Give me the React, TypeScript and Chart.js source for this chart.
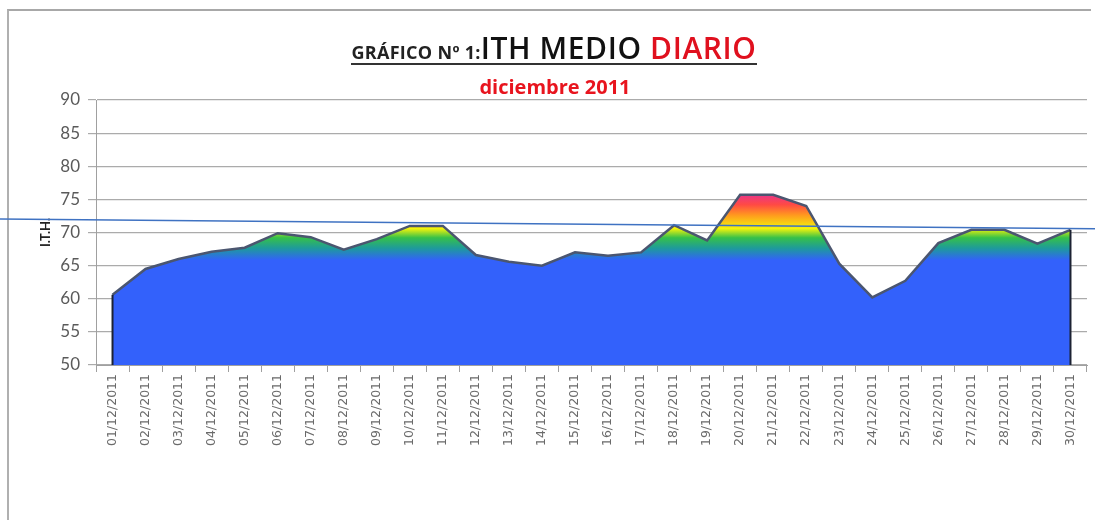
import React, { useEffect, useRef } from "react";
import { Chart, registerables } from "chart.js";

Chart.register(...registerables);

const DATES = [
  "01/12/2011", "02/12/2011", "03/12/2011", "04/12/2011", "05/12/2011",
  "06/12/2011", "07/12/2011", "08/12/2011", "09/12/2011", "10/12/2011",
  "11/12/2011", "12/12/2011", "13/12/2011", "14/12/2011", "15/12/2011",
  "16/12/2011", "17/12/2011", "18/12/2011", "19/12/2011", "20/12/2011",
  "21/12/2011", "22/12/2011", "23/12/2011", "24/12/2011", "25/12/2011",
  "26/12/2011", "27/12/2011", "28/12/2011", "29/12/2011", "30/12/2011",
];

const ITH = [
  60.6, 64.5, 66.0, 67.1, 67.7, 69.9, 69.3, 67.4, 69.0, 71.0,
  71.0, 66.6, 65.6, 65.0, 67.0, 66.5, 67.0, 71.1, 68.8, 75.7,
  75.7, 74.0, 65.3, 60.2, 62.7, 68.4, 70.4, 70.4, 68.3, 70.4,
];

const Y_MIN = 50;
const Y_MAX = 90;
const Y_STEP = 5;

// hand-drawn reference line across the picture (value at left edge, value at right edge)
const MARK_LINE = [72.05, 70.55];

// colour ramp by ITH value
const RAMP_VALUES = [50, 65.8, 67.6, 69.2, 70.6, 72.6, 74.2, 75.8];
const RAMP_COLORS = ["#3361fb", "#3361fb", "#1e9a9c", "#35c04a", "#f4f40a", "#ff9a1e", "#ff4a44", "#e8348c"];

const edgesPlugin = {
  id: "edgesAndMark",
  afterDatasetsDraw(chart: any) {
    const meta = chart.getDatasetMeta(0);
    const pts = meta.data;
    const y = chart.scales.y;
    const base = y.getPixelForValue(Y_MIN);
    const ctx = chart.ctx;
    ctx.save();
    ctx.strokeStyle = "#1c2233";
    ctx.lineWidth = 2;
    [pts[0], pts[pts.length - 1]].forEach((p: any) => {
      ctx.beginPath();
      ctx.moveTo(p.x, p.y);
      ctx.lineTo(p.x, base);
      ctx.stroke();
    });
    ctx.restore();
  },
  afterDraw(chart: any) {
    const y = chart.scales.y;
    const ctx = chart.ctx;
    ctx.save();
    ctx.strokeStyle = "#3f72c2";
    ctx.lineWidth = 1.5;
    ctx.beginPath();
    ctx.moveTo(0, y.getPixelForValue(MARK_LINE[0]));
    ctx.lineTo(chart.width, y.getPixelForValue(MARK_LINE[1]));
    ctx.stroke();
    ctx.restore();
  },
};

const PAD_LEFT = 38;

export default function App() {
  const ref = useRef<HTMLCanvasElement | null>(null);

  useEffect(() => {
    if (!ref.current) return;
    const chart = new Chart(ref.current, {
      type: "line",
      data: {
        labels: DATES,
        datasets: [
          {
            data: ITH,
            fill: "start",
            borderColor: "#4b5670",
            borderWidth: 2.5,
            pointRadius: 0,
            tension: 0,
            backgroundColor: (c: any) => {
              const ch = c.chart;
              if (!ch.chartArea) return RAMP_COLORS[0];
              const ys = ch.scales.y;
              const top = ys.getPixelForValue(RAMP_VALUES[RAMP_VALUES.length - 1]);
              const bot = ys.getPixelForValue(RAMP_VALUES[0]);
              const g = ch.ctx.createLinearGradient(0, bot, 0, top);
              const span = RAMP_VALUES[RAMP_VALUES.length - 1] - RAMP_VALUES[0];
              RAMP_VALUES.forEach((v, i) => {
                g.addColorStop((v - RAMP_VALUES[0]) / span, RAMP_COLORS[i]);
              });
              return g;
            },
          },
        ],
      },
      options: {
        animation: false,
        responsive: false,
        maintainAspectRatio: false,
        layout: { padding: { left: PAD_LEFT, top: 100, right: 8, bottom: 0 } },
        plugins: {
          legend: { display: false },
          tooltip: { enabled: false },
          title: { display: false },
        },
        scales: {
          x: {
            offset: true,
            grid: {
              offset: true,
              drawOnChartArea: false,
              drawTicks: true,
              tickLength: 7,
              color: "#a0a0a0",
            },
            border: { display: true, color: "#a0a0a0" },
            ticks: {
              autoSkip: false,
              minRotation: 90,
              maxRotation: 90,
              color: "#6a6a6a",
              padding: 2,
              font: { family: "DejaVu Sans", size: 12.5 },
            },
            afterFit: (s: any) => {
              s.height = 155;
            },
          },
          y: {
            min: Y_MIN,
            max: Y_MAX,
            ticks: {
              stepSize: Y_STEP,
              color: "#5a5a5a",
              padding: 8,
              font: { family: "Lato", size: 17 },
            },
            grid: { color: "#ababab", tickLength: 8, lineWidth: 1.2 },
            border: { display: true, color: "#a0a0a0" },
            title: {
              display: true,
              text: "I.T.H.",
              color: "#222",
              padding: 0,
              font: { family: "Lato", size: 13, weight: "bold" },
            },
            afterFit: (s: any) => {
              s.width = 96 - PAD_LEFT;
            },
          },
        },
      },
      plugins: [edgesPlugin],
    });
    return () => chart.destroy();
  }, []);

  return (
    <div style={{ position: "fixed", left: 0, top: 0, width: 1095, height: 520, background: "#fff" }}>
      <div
        style={{
          position: "absolute",
          left: 7,
          top: 9,
          width: 1084,
          height: 520,
          borderTop: "2px solid #a8a8a8",
          borderLeft: "2px solid #b0b0b0",
          boxSizing: "border-box",
        }}
      />
      <canvas ref={ref} width={1095} height={520} style={{ position: "absolute", left: 0, top: 0 }} />
      <div
        style={{
          position: "absolute",
          left: 0,
          top: 33,
          width: 1108,
          textAlign: "center",
          fontFamily: "'Open Sans', sans-serif",
          lineHeight: 1,
        }}
      >
        <span style={{ display: "inline-block", borderBottom: "2px solid #333", paddingBottom: 0, whiteSpace: "nowrap", lineHeight: 1 }}>
          <span style={{ fontSize: 18, fontWeight: 700, color: "#222", letterSpacing: 0.3 }}>GRÁFICO Nº 1:</span>
          <span style={{ fontSize: 30, fontWeight: 600, color: "#111", letterSpacing: 0.6 }}>ITH MEDIO </span>
          <span style={{ fontSize: 30, fontWeight: 600, color: "#e0101e", letterSpacing: 0.6 }}>DIARIO</span>
        </span>
      </div>
      <div
        style={{
          position: "absolute",
          left: 0,
          top: 77,
          width: 1110,
          textAlign: "center",
          fontFamily: "'Open Sans', sans-serif",
          lineHeight: 1,
          fontSize: 20,
          fontWeight: 700,
          color: "#e8141e",
        }}
      >
        diciembre 2011
      </div>
    </div>
  );
}
